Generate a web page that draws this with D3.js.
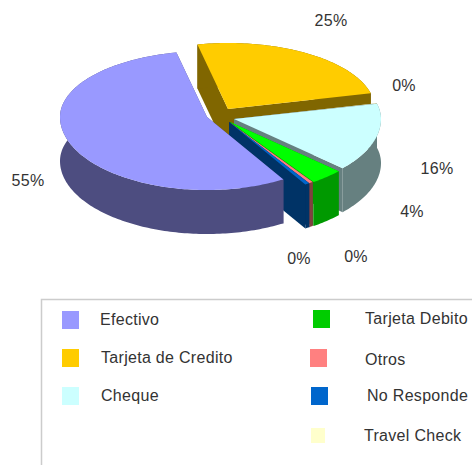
<!DOCTYPE html>
<html>
<head>
<meta charset="utf-8">
<style>
html, body { margin: 0; padding: 0; background: #fff; overflow: hidden; }
svg { display: block; }
text { font-family: "Liberation Sans", Arial, sans-serif; font-size: 16px; letter-spacing: 0.3px; fill: #333; }
</style>
<script src="https://cdn.jsdelivr.net/npm/d3@7"></script>
</head>
<body>
<script>
// Chart data
var categories = ["Efectivo", "Tarjeta de Credito", "Cheque", "Tarjeta Debito", "Otros", "No Responde", "Travel Check"];
var values = [55.36, 24.5, 15.5, 3.6, 0.45, 0.49, 0.1];
// order the slices go round the pie, clockwise
var sliceOrder = ["Tarjeta de Credito", "Travel Check", "Cheque", "Tarjeta Debito", "Otros", "No Responde", "Efectivo"];

// Colours
var topColors = ["#9999ff", "#ffcc00", "#ccffff", "#00ff00", "#ff8080", "#0066cc", "#ffffcc"];
var sideColors = ["#4d4d80", "#806600", "#668080", "#009900", "#804040", "#003366", "#808066"];
var swatchColors = ["#9999ff", "#ffcc00", "#ccffff", "#00cc00", "#ff8080", "#0066cc", "#ffffcc"];

// Layout
var width = 472, height = 465;
var center = [228, 120];
var rx = 147, ryBack = 66, ryFront = 73, depth = 44;
var startDeg = -12;
// how far each slice is pulled out of the pie, by category
var pull = [[-21, -3], [0, -11], [6, -1], [2, 2], [1, 2], [1, 2], [6, -1]];
var labelPos = [[28, 186], [331, 26], [437, 174], [412, 217], [356, 262], [299, 264], [404, 91]];
var swatchPos = [[62, 311, 17, 18], [62, 349, 17, 18], [62, 387, 17, 18], [313, 310, 17, 18], [310, 349, 17, 18], [311, 387, 17, 18], [311, 428, 14, 15]];
var legendTextPos = [[100, 325], [101, 363], [101, 401], [365, 324], [365, 365], [367, 401], [364, 441]];

var topColor = d3.scaleOrdinal().domain(categories).range(topColors);
var sideColor = d3.scaleOrdinal().domain(categories).range(sideColors);
var total = d3.sum(values);

var svg = d3.select("body").append("svg")
    .attr("width", width)
    .attr("height", height);

// project a point of the flat pie onto the tilted picture
function project(angle, r, offset, drop) {
    var c = Math.cos(angle);
    return [
        center[0] + offset[0] + rx * r * Math.sin(angle),
        center[1] + offset[1] + drop - r * c * (c > 0 ? ryBack : ryFront)
    ];
}

function rimPoints(a0, a1, offset, drop) {
    var n = Math.max(2, Math.ceil((a1 - a0) / 0.02));
    return d3.range(n + 1).map(function (i) {
        return project(a0 + (a1 - a0) * i / n, 1, offset, drop);
    });
}

var line = d3.line().curve(d3.curveLinear);

var pie = d3.pie()
    .startAngle(startDeg * Math.PI / 180)
    .endAngle((startDeg + 360) * Math.PI / 180)
    .value(function (d) { return d.value; })
    .sort(function (a, b) { return sliceOrder.indexOf(a.name) - sliceOrder.indexOf(b.name); });

var rows = categories.map(function (name, i) {
    return { name: name, value: values[i], pull: pull[i] };
});

var slices = pie(rows).sort(function (a, b) { return a.startAngle - b.startAngle; });

var groups = svg.selectAll("g.slice")
    .data(slices)
    .enter().append("g")
    .attr("class", "slice");

groups.each(function (d) {
    var g = d3.select(this);
    var off = d.data.pull;
    var side = sideColor(d.data.name);
    var apex = project(0, 0, off, 0);
    var apexLow = project(0, 0, off, depth);

    // the two cut faces
    [d.startAngle, d.endAngle].forEach(function (a) {
        g.append("path")
            .attr("d", line([apex, project(a, 1, off, 0), project(a, 1, off, depth), apexLow]) + "Z")
            .attr("fill", side);
    });

    // outer wall
    var rim = rimPoints(d.startAngle, d.endAngle, off, 0);
    var rimLow = rimPoints(d.startAngle, d.endAngle, off, depth).reverse();
    g.append("path")
        .attr("d", line(rim.concat(rimLow)) + "Z")
        .attr("fill", side);

    // top
    g.append("path")
        .attr("d", line([apex].concat(rim)) + "Z")
        .attr("fill", topColor(d.data.name));
});

// percent labels
svg.selectAll("text.pct")
    .data(rows)
    .enter().append("text")
    .attr("class", "pct")
    .attr("text-anchor", "middle")
    .attr("x", function (d, i) { return labelPos[i][0]; })
    .attr("y", function (d, i) { return labelPos[i][1]; })
    .text(function (d) { return Math.round(d.value / total * 100) + "%"; });

// legend box, open to the right and bottom of the page
svg.append("path")
    .attr("d", "M472,299.5H41.5V465")
    .attr("fill", "none")
    .attr("stroke", "#cccccc")
    .attr("stroke-width", 1.5);

svg.selectAll("rect.swatch")
    .data(categories)
    .enter().append("rect")
    .attr("class", "swatch")
    .attr("x", function (d, i) { return swatchPos[i][0]; })
    .attr("y", function (d, i) { return swatchPos[i][1]; })
    .attr("width", function (d, i) { return swatchPos[i][2]; })
    .attr("height", function (d, i) { return swatchPos[i][3]; })
    .attr("fill", function (d, i) { return swatchColors[i]; });

svg.selectAll("text.legend")
    .data(categories)
    .enter().append("text")
    .attr("class", "legend")
    .attr("x", function (d, i) { return legendTextPos[i][0]; })
    .attr("y", function (d, i) { return legendTextPos[i][1]; })
    .text(function (d) { return d; });
</script>
</body>
</html>
